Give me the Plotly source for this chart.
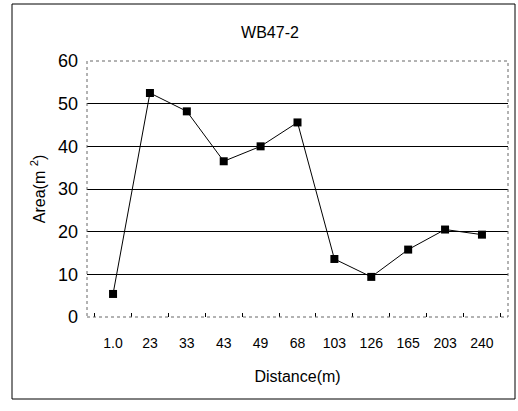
import plotly.graph_objects as go

# Cross-section area measured along the reach
distance_labels = ["1.0", "23", "33", "43", "49", "68", "103", "126", "165", "203", "240"]
area_m2 = [5.4, 52.5, 48.2, 36.5, 40.0, 45.6, 13.6, 9.4, 15.8, 20.5, 19.3]

FONT = "Liberation Sans Narrow, Arial Narrow, Liberation Sans, Arial, sans-serif"

fig = go.Figure(
    go.Scatter(
        x=distance_labels,
        y=area_m2,
        mode="lines+markers",
        line=dict(color="black", width=1),
        marker=dict(symbol="square", size=8, color="black"),
    )
)

fig.update_layout(
    width=518,
    height=411,
    margin=dict(l=87, r=10, t=61, b=94),
    paper_bgcolor="white",
    plot_bgcolor="white",
    showlegend=False,
    title=dict(
        text="WB47-2",
        x=270 / 518,
        xanchor="center",
        y=1 - 32 / 411,
        yanchor="middle",
        font=dict(family=FONT, size=16, color="black"),
    ),
    font=dict(family=FONT, color="black"),
)

fig.update_xaxes(
    type="category",
    tickson="boundaries",
    ticks="inside",
    ticklen=4,
    tickcolor="black",
    tickfont=dict(size=14, family=FONT, color="black"),
    showgrid=False,
    showline=False,
    title=dict(text="Distance(m)", font=dict(size=16, family=FONT), standoff=20),
    ticklabelstandoff=16,
)

fig.update_yaxes(
    range=[0, 60],
    dtick=10,
    showgrid=True,
    gridcolor="black",
    gridwidth=1,
    showline=False,
    zeroline=False,
    tickfont=dict(size=18, family=FONT, color="black"),
    ticklabelstandoff=8,
    title=dict(text="Area(m <sup>2</sup>)", font=dict(size=16, family=FONT), standoff=8),
)

# Dotted frame around the plotting area
fig.add_shape(
    type="rect",
    xref="paper",
    yref="paper",
    x0=0,
    x1=1,
    y0=0,
    y1=1,
    line=dict(color="#666", width=1, dash="dot"),
    layer="above",
)

# Outer frame around the whole chart
fig.add_shape(
    type="rect",
    xref="paper",
    yref="paper",
    x0=(12 - 87) / 421,
    x1=(515 - 87) / 421,
    y0=(317 - 399) / 256,
    y1=(317 - 4) / 256,
    line=dict(color="black", width=1),
    layer="below",
)

fig.write_html("out.html")
